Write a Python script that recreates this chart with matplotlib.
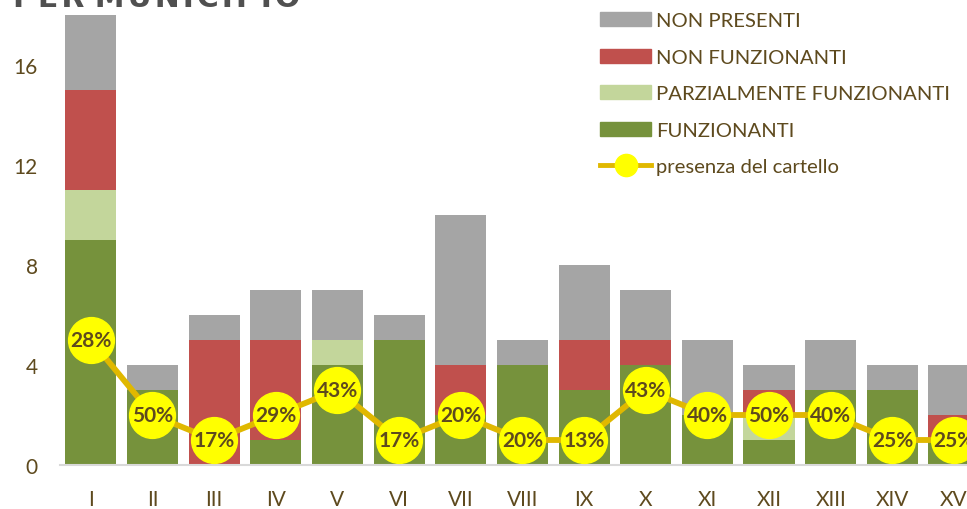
import matplotlib
matplotlib.use("Agg")
import matplotlib.pyplot as plt
from matplotlib.patches import Patch
from matplotlib.lines import Line2D
import numpy as np

# dati per municipio
municipi = ["I", "II", "III", "IV", "V", "VI", "VII", "VIII", "IX", "X",
            "XI", "XII", "XIII", "XIV", "XV"]
funzionanti = [9, 3, 0, 1, 4, 5, 2, 4, 3, 4, 2, 1, 3, 3, 1]
parziali = [2, 0, 0, 0, 1, 0, 0, 0, 0, 0, 0, 1, 0, 0, 0]
non_funzionanti = [4, 0, 5, 4, 0, 0, 2, 0, 2, 1, 0, 1, 0, 0, 1]
non_presenti = [3, 1, 1, 2, 2, 1, 6, 1, 3, 2, 3, 1, 2, 1, 2]
con_cartello = [5, 2, 1, 2, 3, 1, 2, 1, 1, 3, 2, 2, 2, 1, 1]

TXT = "#5E4A1E"
C_GRIGIO = "#A5A5A5"
C_ROSSO = "#C0504D"
C_VERDE_CH = "#C3D69B"
C_VERDE = "#76923C"
C_LINEA = "#E0B800"
C_GIALLO = "#FFFF00"

plt.rcParams['font.family'] = ['Lato', 'DejaVu Sans']

fig = plt.figure(figsize=(9.67, 5.10), dpi=100)
ax = fig.add_axes([60 / 967, 44 / 510, 907 / 967, 450 / 510])

x = np.arange(len(municipi))
f = np.array(funzionanti)
p = np.array(parziali)
nf = np.array(non_funzionanti)
np_ = np.array(non_presenti)
w = 0.83

ax.bar(x, f, w, color=C_VERDE, zorder=2)
ax.bar(x, p, w, bottom=f, color=C_VERDE_CH, zorder=2)
ax.bar(x, nf, w, bottom=f + p, color=C_ROSSO, zorder=2)
ax.bar(x, np_, w, bottom=f + p + nf, color=C_GRIGIO, zorder=2)

totali = f + p + nf + np_
ax.plot(x, con_cartello, color=C_LINEA, lw=4.2, marker="o", markersize=33,
        markerfacecolor=C_GIALLO, markeredgecolor=C_GIALLO, zorder=3)
for xi, yi, tot in zip(x, con_cartello, totali):
    pct = int(100 * yi / tot + 0.5)
    ax.text(xi, yi, f"{pct}%", ha="center", va="center",
            fontsize=15, fontweight="bold", color=TXT, zorder=4)

ax.set_xlim(-0.5, 14.21)
ax.set_ylim(0, 18)
ax.set_yticks([0, 4, 8, 12, 16])
ax.set_xticks(x)
ax.set_xticklabels(municipi)
ax.tick_params(length=0, labelsize=15, colors=TXT)
ax.tick_params(axis="y", pad=16)
ax.tick_params(axis="x", pad=17)
for s in ["top", "right", "left"]:
    ax.spines[s].set_visible(False)
ax.spines["bottom"].set_color("#D9D9D9")
ax.spines["bottom"].set_linewidth(1.5)

handles = [
    Patch(color=C_GRIGIO, label="NON PRESENTI"),
    Patch(color=C_ROSSO, label="NON FUNZIONANTI"),
    Patch(color=C_VERDE_CH, label="PARZIALMENTE FUNZIONANTI"),
    Patch(color=C_VERDE, label="FUNZIONANTI"),
    Line2D([], [], color=C_LINEA, lw=3.5, marker="o", markersize=16,
           markerfacecolor=C_GIALLO, markeredgecolor=C_GIALLO,
           label="presenza del cartello"),
]
leg = fig.legend(handles=handles, loc="upper left",
                 bbox_to_anchor=(582 / 967, 1.0 + 5 / 510), frameon=False,
                 fontsize=14.6, handlelength=2.5, handleheight=0.7,
                 handletextpad=0.25, labelspacing=0.95)
for t in leg.get_texts():
    t.set_color(TXT)

fig.text(13 / 967, 1 - 7 / 510, "P\u200aE\u200aR M\u200aU\u200aN\u200aI\u200aC\u200aI\u200aP\u200aI\u200aO",
         fontsize=21.5, fontweight="bold", family=["DejaVu Sans"],
         color="#505050", va="baseline", ha="left")

fig.savefig("out.png", dpi=100)
